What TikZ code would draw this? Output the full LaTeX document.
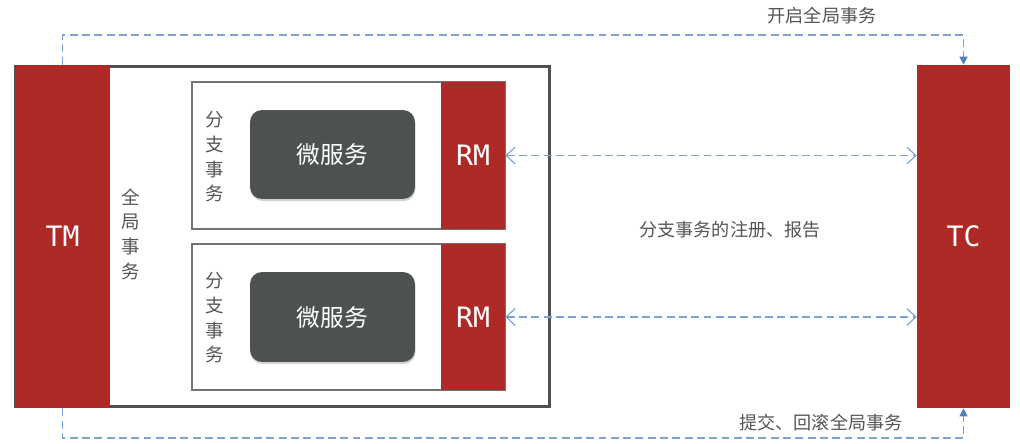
\documentclass[tikz,border=0pt]{standalone}
\usepackage{fontspec}
\setmainfont{Noto Sans CJK SC}
\newfontfamily\codefont{DejaVu Sans Mono}
\usepackage{xcolor}
\usepackage{tikz}
\usetikzlibrary{arrows.meta, positioning, shadows}

\definecolor{tmred}{HTML}{AD2A26}
\definecolor{msgray}{HTML}{4D5152}
\definecolor{linkblue}{HTML}{7BA3D6}
\definecolor{tipblue}{HTML}{4F7FC0}
\definecolor{txtgray}{HTML}{555555}

\tikzset{
  redbox/.style={fill=tmred, text=white, inner sep=0pt, font=\codefont\fontsize{16}{17}\selectfont},
  branchbox/.style={draw=gray!90!black, line width=0.8pt, inner sep=0pt},
  msbox/.style={fill=msgray, text=white, rounded corners=0.24cm, inner sep=0pt,
    minimum width=3.3cm, font=\fontsize{13.5}{14}\selectfont,
    drop shadow={shadow xshift=0.4pt, shadow yshift=-1.2pt, opacity=0.35}},
  vtext/.style={text=txtgray, align=center, font=\fontsize{10.5}{14}\selectfont},
  flow/.style={draw=linkblue, line width=0.65pt, dash pattern=on 4.5pt off 2.5pt},
  label/.style={text=txtgray, font=\fontsize{10.3}{11}\selectfont}
}

\begin{document}
\begin{tikzpicture}[x=0.02cm, y=-0.02cm]
  \useasboundingbox (0,0) rectangle (1020,443);

  % global transaction
  \node[draw=msgray, line width=1.7pt, minimum width=10.7cm, minimum height=6.82cm, inner sep=0pt] (global) at (282.5,236.5) {};
  \node[redbox, minimum width=1.9cm, minimum height=6.86cm] (TM) at (62.5,236.5) {TM};
  \node[redbox, minimum width=1.86cm, minimum height=6.86cm] (TC) at (963.5,236.5) {TC};
  \node[vtext] (globaltxt) at (131,234) {全\\局\\事\\务};

  % branch transactions
  \node[branchbox, minimum width=6.26cm, minimum height=2.94cm] (branch1) at (348.5,155.5) {};
  \node[redbox, minimum width=1.28cm, minimum height=2.94cm] (RM1) at (473,155.5) {RM};
  \node[msbox, minimum height=1.78cm] (ms1) at (332.5,154.5) {微服务};
  \node[vtext] (btxt1) at (215,157) {分\\支\\事\\务};

  \node[branchbox, minimum width=6.26cm, minimum height=2.92cm] (branch2) at (348.5,317) {};
  \node[redbox, minimum width=1.28cm, minimum height=2.92cm] (RM2) at (473,317) {RM};
  \node[msbox, minimum height=1.8cm] (ms2) at (332.5,317) {微服务};
  \node[vtext] (btxt2) at (215,318) {分\\支\\事\\务};

  % links
  \draw[flow, -{Triangle[length=1.6mm, width=1.6mm, color=tipblue]}] (TM.north) |- (TC.north |- 0,35) -- (TC.north);
  \draw[flow, -{Triangle[length=1.6mm, width=1.6mm, color=tipblue]}] (TM.south) |- (TC.south |- 0,438) -- (TC.south);
  \draw[flow, {Straight Barb[length=1.8mm, width=3.4mm]}-{Straight Barb[length=1.8mm, width=3.4mm]}] (RM1.east) -- (RM1.east -| TC.west);
  \draw[flow, {Straight Barb[length=1.8mm, width=3.4mm]}-{Straight Barb[length=1.8mm, width=3.4mm]}] (RM2.east) -- (RM2.east -| TC.west);

  \node[label] (open) at (822,16) {开启全局事务};
  \node[label] (commit) at (821,423) {提交、回滚全局事务};
  \node[label] (report) at (730,230) {分支事务的注册、报告};
\end{tikzpicture}
\end{document}
